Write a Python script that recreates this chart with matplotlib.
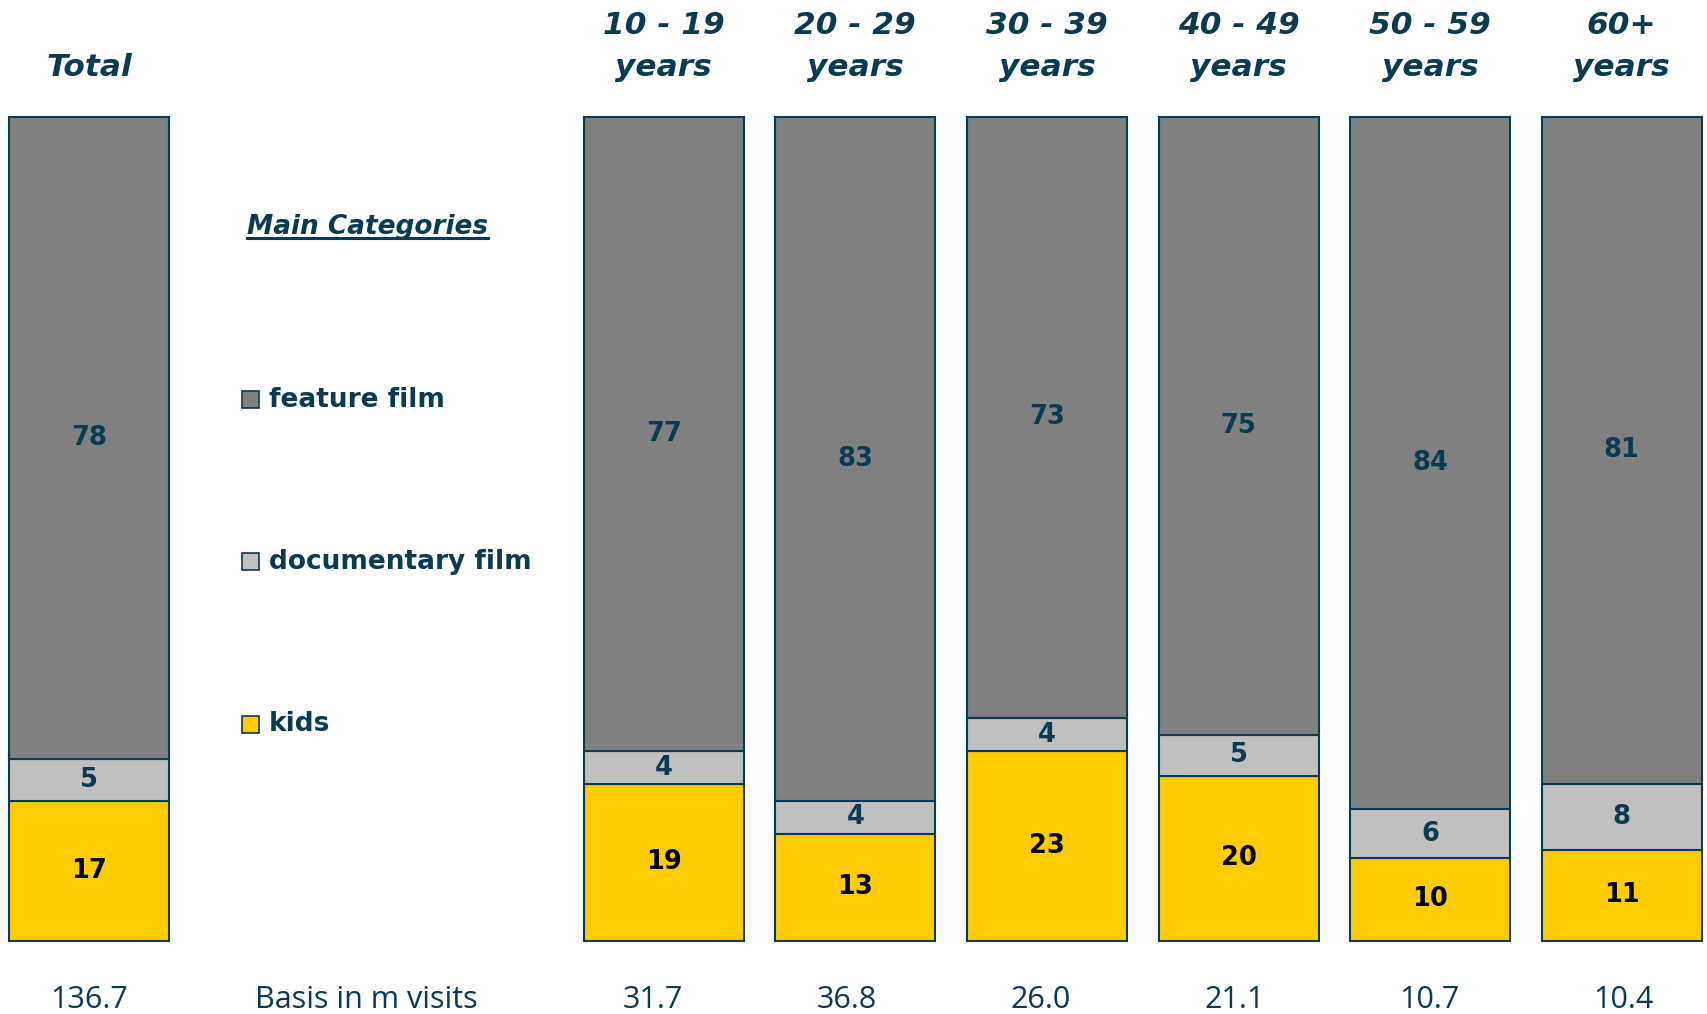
import matplotlib.pyplot as plt
from matplotlib.patches import Rectangle

groups = ["Total", "10 - 19\nyears", "20 - 29\nyears", "30 - 39\nyears",
          "40 - 49\nyears", "50 - 59\nyears", "60+\nyears"]
kids = [17, 19, 13, 23, 20, 10, 11]
documentary = [5, 4, 4, 4, 5, 6, 8]
feature = [78, 77, 83, 73, 75, 84, 81]
basis = ["136.7", "31.7", "36.8", "26.0", "21.1", "10.7", "10.4"]
series_names = ["feature film", "documentary film", "kids"]

navy = "#0B3A53"
colors = {"kids": "#FFCC00", "documentary film": "#C0C0C0", "feature film": "#808080"}

plt.rcParams['font.family'] = ['DejaVu Sans']

fig = plt.figure(figsize=(17.07, 10.14), dpi=100)
ax = fig.add_axes([0, 0, 1, 1])
ax.set_xlim(-0.4645, 8.445)
ax.set_ylim(-8.9, 114.14)
ax.axis('off')

# total sits alone on the left, the age groups start after the legend gap
xpos = [0, 3, 4, 5, 6, 7, 8]
width = 0.835

bottom = [0] * len(xpos)
for name, vals, tc in [("kids", kids, "black"),
                       ("documentary film", documentary, navy),
                       ("feature film", feature, navy)]:
    bars = ax.bar(xpos, vals, width, bottom=bottom, color=colors[name],
                  edgecolor=navy, linewidth=1.5)
    for b, v, b0 in zip(bars, vals, bottom):
        ax.text(b.get_x() + b.get_width() / 2, b0 + v / 2, str(v),
                ha='center', va='center', fontsize=18.5, fontweight='bold', color=tc)
    bottom = [b0 + v for b0, v in zip(bottom, vals)]

# column headers
for x, g in zip(xpos, groups):
    ya = 105.95 if x == 0 else 108.5
    ax.text(x, ya, g, ha='center', va='center', fontsize=22.5, fontweight='bold',
            fontstyle='italic', color=navy, linespacing=1.6)

# basis row, the age figures run on a slightly wider pitch than the bars
for x, s in zip(xpos, basis):
    lx = x if x == 0 else 2.943 + (x - 3) * 1.013
    ax.text(lx, -7.2, s, ha='center', va='center', fontsize=22,
            family='Open Sans', color=navy)
ax.text(1.45, -7.2, "Basis in m visits", ha='center', va='center', fontsize=22,
        family='Open Sans', color=navy)

# legend block
title = ax.text(0.825, 86.6, "Main Categories", ha='left', va='center', fontsize=19,
                fontweight='bold', fontstyle='italic', color=navy)
fig.canvas.draw()
bb = title.get_window_extent().transformed(ax.transData.inverted())
ax.plot([bb.x0, bb.x1], [bb.y0 + 0.2, bb.y0 + 0.2], color=navy, lw=2.2)

leg_y = [65.65, 45.96, 26.28]
sq_w = 17 / 191.6
sq_h = 17 / 8.24
for name, y in zip(series_names, leg_y):
    ax.add_patch(Rectangle((0.8, y - sq_h / 2), sq_w, sq_h, facecolor=colors[name],
                           edgecolor=navy, linewidth=1.2))
    ax.text(0.94, y, name, ha='left', va='center', fontsize=19,
            fontweight='bold', color=navy)

fig.savefig("out.png", dpi=100)
